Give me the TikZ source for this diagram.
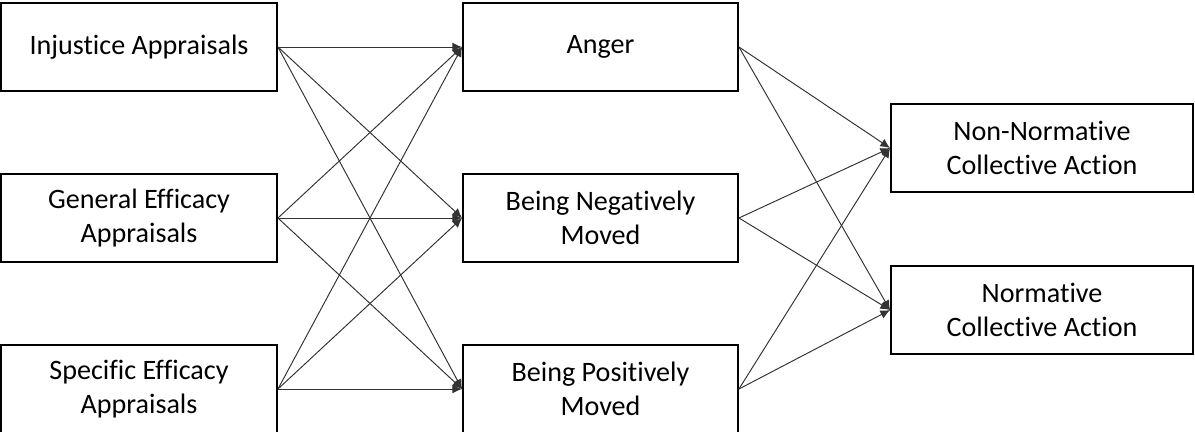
\documentclass[tikz,border=0pt]{standalone}
\usepackage{fontspec}
\setmainfont{Carlito}[Ligatures=NoCommon]
\usetikzlibrary{arrows.meta}

\begin{document}
\begin{tikzpicture}[x=0.02cm,y=-0.02cm,
  box/.style={draw,line width=1.1pt,align=center,inner sep=0pt,
    font=\fontsize{16}{19.5}\selectfont},
  leftbox/.style={box,minimum width=5.52cm,minimum height=1.76cm},
  midbox/.style={box,minimum width=5.5cm,minimum height=1.76cm},
  rightbox/.style={box,minimum width=6.04cm,minimum height=1.76cm},
  link/.style={-{Latex[length=5.5pt,width=5pt]},line width=0.55pt,black!80}]
  \useasboundingbox (0,0) rectangle (1195,432);

  %appraisals
  \node[leftbox] (inj) at (139,47) {Injustice Appraisals};
  \node[leftbox] (gen) at (139,218) {General Efficacy\\Appraisals};
  \node[leftbox] (spe) at (139,389) {Specific Efficacy\\Appraisals};

  %emotions
  \node[midbox] (ang) at (600.5,47) {Anger};
  \node[midbox] (neg) at (600.5,218) {Being Negatively\\Moved};
  \node[midbox] (pos) at (600.5,389) {Being Positively\\Moved};

  %collective action
  \node[rightbox] (non) at (1042,148) {Non-Normative\\Collective Action};
  \node[rightbox] (nor) at (1042,310) {Normative\\Collective Action};

  %paths
  \foreach \s in {inj,gen,spe} {
    \foreach \t in {ang,neg,pos} {
      \draw[link] (\s.east) -- (\t.west);
    }
  }
  \foreach \s in {ang,neg,pos} {
    \foreach \t in {non,nor} {
      \draw[link] (\s.east) -- (\t.west);
    }
  }
\end{tikzpicture}
\end{document}
